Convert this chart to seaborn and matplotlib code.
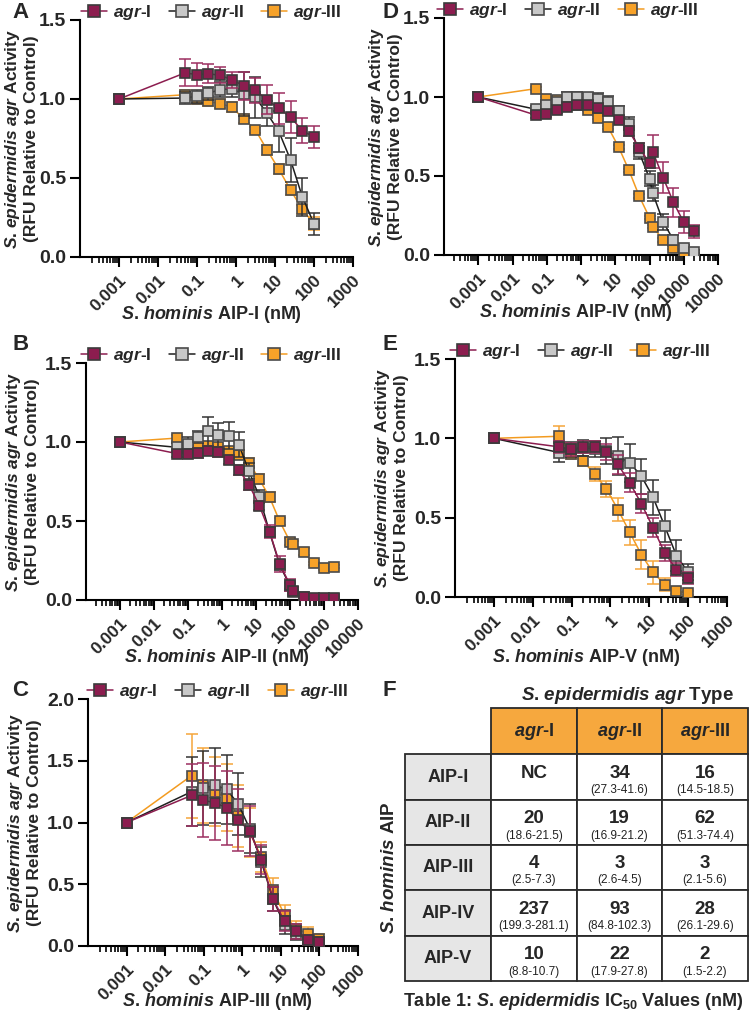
import matplotlib
matplotlib.use('Agg')
import matplotlib.pyplot as plt
from matplotlib.lines import Line2D
from matplotlib.patches import Rectangle
from matplotlib.ticker import FixedLocator, LogLocator, NullFormatter
import numpy as np
import seaborn as sns

sns.set_theme(style='ticks')
plt.rcParams['font.family'] = ['Liberation Sans', 'DejaVu Sans']
plt.rcParams['font.weight'] = 'bold'
plt.rcParams['mathtext.fontset'] = 'custom'
plt.rcParams['mathtext.rm'] = 'Liberation Sans:bold'
plt.rcParams['mathtext.it'] = 'Liberation Sans:italic:bold'
plt.rcParams['mathtext.bf'] = 'Liberation Sans:bold'
plt.rcParams['axes.linewidth'] = 1.5

# doses (nM); first point is the untreated control drawn at 0.001
doses_short = [0.001, 0.0488, 0.0977, 0.195, 0.391, 0.781, 1.56, 3.13, 6.25, 12.5, 25, 50, 100]
doses_long = [0.001, 0.0488, 0.0977, 0.195, 0.391, 0.781, 1.56, 3.13, 6.25, 12.5, 25, 50, 100,
              125, 250, 500, 1000, 2000]

# panel A - AIP-I
A_agr1 = [1.0, 1.165, 1.155, 1.16, 1.15, 1.122, 1.084, 1.055, 0.996, 0.94, 0.886, 0.80, 0.759]
A_agr1_err = [0, 0.085, 0.07, 0.06, 0.05, 0.05, 0.09, 0.08, 0.09, 0.1, 0.1, 0.08, 0.07]
A_agr2 = [1.0, 1.006, 1.017, 1.036, 1.06, 1.065, 1.03, 1.01, 0.91, 0.795, 0.615, 0.382, 0.21]
A_agr2_err = [0, 0.04, 0.04, 0.04, 0.05, 0.05, 0.14, 0.13, 0.08, 0.13, 0.14, 0.12, 0.07]
A_agr3 = [1.0, 1.027, 1.0, 0.985, 0.97, 0.949, 0.875, 0.805, 0.678, 0.556, 0.425, 0.302, 0.21]
A_agr3_err = [0, 0.03, 0.03, 0.03, 0.03, 0.03, 0.03, 0.02, 0.03, 0.03, 0.03, 0.03, 0.04]

# panel B - AIP-II
B_agr1 = [1.0, 0.926, 0.926, 0.93, 0.945, 0.937, 0.888, 0.824, 0.729, 0.598, 0.433, 0.228, 0.095,
          0.06, 0.02, 0.01, 0.01, 0.01]
B_agr1_err = [0, 0.02, 0.02, 0.03, 0.03, 0.03, 0.03, 0.03, 0.03, 0.03, 0.04, 0.05, 0.04,
              0.02, 0.01, 0.01, 0.01, 0.01]
B_agr2 = [1.0, 0.966, 0.989, 1.032, 1.067, 1.046, 1.04, 0.983, 0.814, 0.655, 0.43, 0.22, 0.09,
          0.053, 0.021, 0.008, 0.007, 0.006]
B_agr2_err = [0, 0.03, 0.04, 0.04, 0.09, 0.075, 0.085, 0.08, 0.05, 0.04, 0.03, 0.03, 0.02,
              0.01, 0.01, 0.01, 0.01, 0.01]
B_agr3 = [1.0, 1.025, 0.96, 0.972, 0.972, 0.966, 0.94, 0.92, 0.867, 0.765, 0.651, 0.497, 0.37,
          0.355, 0.306, 0.233, 0.2, 0.211]
B_agr3_err = [0, 0.02, 0.02, 0.02, 0.02, 0.02, 0.03, 0.03, 0.03, 0.03, 0.03, 0.02, 0.02,
              0.02, 0.02, 0.01, 0.01, 0.01]

# panel C - AIP-III
C_agr1 = [1.0, 1.22, 1.18, 1.16, 1.12, 1.02, 0.93, 0.70, 0.38, 0.2, 0.12, 0.05, 0.03]
C_agr1_err = [0, 0.25, 0.3, 0.3, 0.3, 0.25, 0.2, 0.12, 0.1, 0.08, 0.06, 0.04, 0.03]
C_agr2 = [1.0, 1.25, 1.28, 1.3, 1.27, 1.15, 0.95, 0.68, 0.38, 0.17, 0.1, 0.05, 0.03]
C_agr2_err = [0, 0.28, 0.3, 0.3, 0.28, 0.25, 0.2, 0.12, 0.1, 0.07, 0.05, 0.03, 0.02]
C_agr3 = [1.0, 1.38, 1.3, 1.25, 1.2, 1.05, 0.92, 0.72, 0.45, 0.25, 0.14, 0.1, 0.06]
C_agr3_err = [0, 0.34, 0.3, 0.28, 0.27, 0.25, 0.2, 0.12, 0.1, 0.08, 0.06, 0.05, 0.04]

# panel D - AIP-IV
D_agr1 = [1.0, 0.885, 0.895, 0.916, 0.937, 0.947, 0.947, 0.933, 0.912, 0.857, 0.785, 0.678, 0.583,
          0.653, 0.49, 0.333, 0.207, 0.149]
D_agr1_err = [0, 0.02, 0.02, 0.02, 0.02, 0.02, 0.02, 0.02, 0.02, 0.02, 0.03, 0.03, 0.03,
              0.105, 0.1, 0.09, 0.07, 0.04]
D_agr2 = [1.0, 0.922, 0.947, 0.968, 1.0, 1.0, 0.998, 0.985, 0.968, 0.91, 0.832, 0.65, 0.484,
          0.39, 0.21, 0.095, 0.042, 0.021]
D_agr2_err = [0, 0.02, 0.02, 0.02, 0.03, 0.03, 0.03, 0.04, 0.04, 0.03, 0.04, 0.04, 0.05,
              0.05, 0.05, 0.03, 0.02, 0.01]
D_agr3 = [1.0, 1.053, 0.99, 0.979, 0.96, 0.95, 0.92, 0.87, 0.807, 0.684, 0.537, 0.373, 0.236,
          0.179, 0.095, 0.046, 0.005, 0.0]
D_agr3_err = [0, 0.01, 0.01, 0.01, 0.01, 0.01, 0.01, 0.01, 0.01, 0.01, 0.01, 0.01, 0.01,
              0.01, 0.01, 0.01, 0.01, 0.01]

# panel E - AIP-V
E_agr1 = [1.0, 0.946, 0.93, 0.946, 0.946, 0.914, 0.836, 0.72, 0.589, 0.436, 0.278, 0.172, 0.12]
E_agr1_err = [0, 0.04, 0.04, 0.04, 0.04, 0.05, 0.06, 0.06, 0.06, 0.06, 0.05, 0.04, 0.04]
E_agr2 = [1.0, 0.91, 0.93, 0.94, 0.935, 0.92, 0.888, 0.846, 0.762, 0.629, 0.446, 0.261, 0.155]
E_agr2_err = [0, 0.06, 0.05, 0.05, 0.05, 0.08, 0.12, 0.12, 0.11, 0.11, 0.1, 0.1, 0.05]
E_agr3 = [1.0, 1.013, 0.899, 0.857, 0.777, 0.682, 0.551, 0.408, 0.267, 0.155, 0.078, 0.036, 0.025]
E_agr3_err = [0, 0.064, 0.03, 0.03, 0.045, 0.05, 0.075, 0.08, 0.09, 0.07, 0.04, 0.02, 0.01]

# table F - IC50 values
row_labels = ['AIP-I', 'AIP-II', 'AIP-III', 'AIP-IV', 'AIP-V']
col_labels = [r'$\mathit{agr}$-I', r'$\mathit{agr}$-II', r'$\mathit{agr}$-III']
ic50 = [['NC', '34', '16'],
        ['20', '19', '62'],
        ['4', '3', '3'],
        ['237', '93', '28'],
        ['10', '22', '2']]
ic50_ci = [['', '(27.3-41.6)', '(14.5-18.5)'],
           ['(18.6-21.5)', '(16.9-21.2)', '(51.3-74.4)'],
           ['(2.5-7.3)', '(2.6-4.5)', '(2.1-5.6)'],
           ['(199.3-281.1)', '(84.8-102.3)', '(26.1-29.6)'],
           ['(8.8-10.7)', '(17.9-27.8)', '(1.5-2.2)']]

strain_names = [r'$\mathit{agr}$-I', r'$\mathit{agr}$-II', r'$\mathit{agr}$-III']
styles = {
    'agr-I': dict(line='#8c1d4f', face='#8c1d4f', edge='#3b3b3b', err='#9c2f60', z=6),
    'agr-II': dict(line='#1e1e1e', face='#c8c8c8', edge='#4a4a4a', err='#333333', z=5),
    'agr-III': dict(line='#f39b20', face='#f7a229', edge='#4a4a4a', err='#f5a53a', z=4),
}
keys = ['agr-I', 'agr-II', 'agr-III']

# italic species names (period kept outside math to avoid punctuation spacing)
SEPI = r'$\mathit{S}$. $\mathit{epidermidis}$'
SHOM = r'$\mathit{S}$. $\mathit{hominis}$'
AGR = r'$\mathit{agr}$'

W, H = 750, 1011
fig = plt.figure(figsize=(7.5, 10.11), dpi=100)


def px_axes(left, top, right, bottom):
    return fig.add_axes([left / W, 1 - bottom / H, (right - left) / W, (bottom - top) / H])


def draw_panel(ax, doses, vals, errs, xmax, ymax, xlabel, ylabel_x, xlabel_y, leg_x):
    ax.set_xscale('log')
    for key, v, e in zip(keys, vals, errs):
        st = styles[key]
        ax.errorbar(doses, v, yerr=e, fmt='none', ecolor=st['err'], elinewidth=1.1,
                    capsize=4, capthick=1.1, zorder=st['z'] - 0.5)
        sns.lineplot(x=doses, y=v, ax=ax, color=st['line'], linewidth=1.1, marker='s',
                     markersize=7.5, markerfacecolor=st['face'], markeredgecolor=st['edge'],
                     markeredgewidth=1.2, zorder=st['z'], legend=False)
    ax.set_xlim(1e-4, xmax)
    ax.set_ylim(0, ymax)
    majors = [1e-3, 1e-2, 1e-1, 1, 10, 100, 1000, 10000]
    names = ['0.001', '0.01', '0.1', '1', '10', '100', '1000', '10000']
    majors = [m for m in majors if m <= xmax]
    ax.xaxis.set_major_locator(FixedLocator(majors))
    ax.set_xticklabels(names[:len(majors)], rotation=45, ha='right', rotation_mode='anchor',
                       fontsize=12.5, fontweight='bold')
    ax.xaxis.set_minor_locator(LogLocator(base=10, subs=np.arange(2, 10), numticks=20))
    ax.xaxis.set_minor_formatter(NullFormatter())
    yt = np.arange(0, ymax + 0.01, 0.5)
    ax.set_yticks(yt)
    ax.set_yticklabels([f'{t:.1f}' for t in yt], fontsize=14, fontweight='bold')
    ax.tick_params(axis='both', which='major', length=7, width=1.5, direction='out',
                   color='black', pad=3)
    ax.tick_params(axis='x', which='minor', length=4, width=1.2, direction='out', color='black')
    ax.tick_params(axis='x', which='major', pad=4)
    sns.despine(ax=ax)
    for s in ['left', 'bottom']:
        ax.spines[s].set_color('black')
    ax.set_xlabel(xlabel, fontsize=13, fontweight='bold', va='top')
    ax.xaxis.set_label_coords(0.48, xlabel_y)
    ax.set_ylabel(SEPI + ' ' + AGR + ' Activity' + '\n' + '(RFU Relative to Control)',
                  fontsize=12.5, fontweight='bold', linespacing=1.15)
    ax.yaxis.set_label_coords(ylabel_x, 0.5)
    handles = [Line2D([0], [0], color=styles[k]['line'], lw=1.1, marker='s', markersize=8,
                      markerfacecolor=styles[k]['face'], markeredgecolor=styles[k]['edge'],
                      markeredgewidth=1.2) for k in keys]
    ax.legend(handles, strain_names, ncol=3, loc='center', bbox_to_anchor=(leg_x, 1.03),
              frameon=False, fontsize=12.5, handlelength=1.5, columnspacing=1.0,
              handletextpad=0.35, borderaxespad=0)


axA = px_axes(80, 20, 353, 257)
draw_panel(axA, doses_short, [A_agr1, A_agr2, A_agr3], [A_agr1_err, A_agr2_err, A_agr3_err],
           1000, 1.5, SHOM + ' AIP-I (nM)', -0.15, -0.2, 0.48)
axB = px_axes(86, 363, 358, 600)
draw_panel(axB, doses_long, [B_agr1, B_agr2, B_agr3], [B_agr1_err, B_agr2_err, B_agr3_err],
           10000, 1.5, SHOM + ' AIP-II (nM)', -0.17, -0.2, 0.46)
axC = px_axes(88, 699, 358, 946)
draw_panel(axC, doses_short, [C_agr1, C_agr2, C_agr3], [C_agr1_err, C_agr2_err, C_agr3_err],
           1000, 2.0, SHOM + ' AIP-III (nM)', -0.17, -0.182, 0.48)
axD = px_axes(444, 18, 718, 255)
draw_panel(axD, doses_long, [D_agr1, D_agr2, D_agr3], [D_agr1_err, D_agr2_err, D_agr3_err],
           10000, 1.5, SHOM + ' AIP-IV (nM)', -0.15, -0.2, 0.45)
axE = px_axes(455, 359, 727, 597)
draw_panel(axE, doses_short, [E_agr1, E_agr2, E_agr3], [E_agr1_err, E_agr2_err, E_agr3_err],
           1000, 1.5, SHOM + ' AIP-V (nM)', -0.17, -0.21, 0.46)

for letter, x, y in [('A', 12, 12), ('B', 12, 345), ('C', 12, 690),
                     ('D', 382, 12), ('E', 382, 345), ('F', 382, 690)]:
    fig.text(x / W, 1 - y / H, letter, fontsize=16, fontweight='bold', ha='left', va='center')

# table F
tab = fig.add_axes([0, 0, 1, 1], zorder=-1)
tab.set_xlim(0, W)
tab.set_ylim(H, 0)
tab.axis('off')
col_edges = [491, 577, 662, 748]
row_edges = [754, 800, 845, 890, 936, 981]
head_top, lab_left = 708, 405
edge_c = '#2a2a2a'
for j in range(3):
    tab.add_patch(Rectangle((col_edges[j], head_top), col_edges[j + 1] - col_edges[j],
                            row_edges[0] - head_top, facecolor='#f6a83e', edgecolor=edge_c, lw=1.3))
    tab.text((col_edges[j] + col_edges[j + 1]) / 2, (head_top + row_edges[0]) / 2, col_labels[j],
             ha='center', va='center', fontsize=13, fontweight='bold')
for i in range(5):
    y0, y1 = row_edges[i], row_edges[i + 1]
    yc = (y0 + y1) / 2
    tab.add_patch(Rectangle((lab_left, y0), col_edges[0] - lab_left, y1 - y0,
                            facecolor='#e6e6e6', edgecolor=edge_c, lw=1.3))
    tab.text((lab_left + col_edges[0]) / 2, yc, row_labels[i], ha='center', va='center',
             fontsize=13, fontweight='bold')
    for j in range(3):
        tab.add_patch(Rectangle((col_edges[j], y0), col_edges[j + 1] - col_edges[j], y1 - y0,
                                facecolor='white', edgecolor=edge_c, lw=1.3))
        xc = (col_edges[j] + col_edges[j + 1]) / 2
        tab.text(xc, yc - 4, ic50[i][j], ha='center', va='center', fontsize=13.5, fontweight='bold')
        if ic50_ci[i][j]:
            tab.text(xc, yc + 13, ic50_ci[i][j], ha='center', va='center', fontsize=8.5,
                     fontweight='normal', color='#222222')
tab.text(627, 695, SEPI + ' ' + AGR + ' Type', ha='center', va='center',
         fontsize=13.5, fontweight='bold')
tab.text(390, (row_edges[0] + row_edges[-1]) / 2, SHOM + ' AIP', rotation=90,
         ha='center', va='center', fontsize=13.5, fontweight='bold')
tab.text(573, 1002, 'Table 1: ' + SEPI + r' IC$_{50}$ Values (nM)', ha='center',
         va='center', fontsize=13, fontweight='bold')

fig.savefig('out.png', dpi=100)
